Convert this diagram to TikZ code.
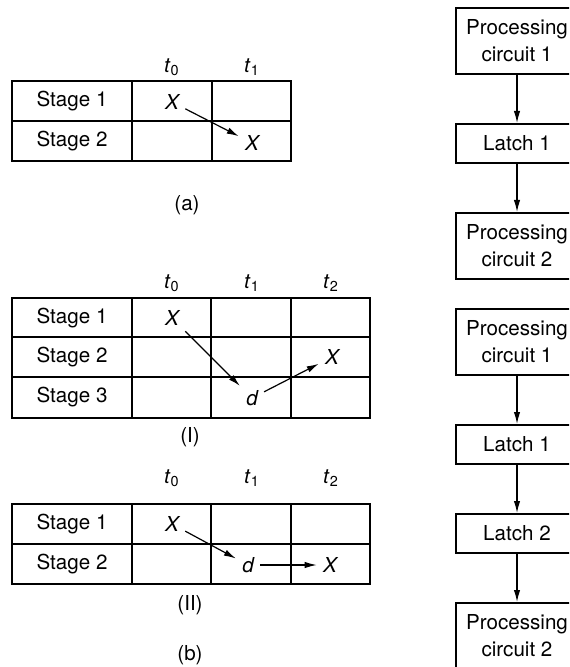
\documentclass[tikz,border=0pt]{standalone}
\usepackage{fontspec}
\setmainfont{TeX Gyre Heros}
\usepackage{tikz}
\usetikzlibrary{arrows.meta,positioning}
\newcommand{\tlab}[1]{\textit{t}\textsubscript{#1}}

\begin{document}
\begin{tikzpicture}[
  x=0.5pt, y=-0.5pt,
  every node/.style={font=\fontsize{10.3}{13.5}\selectfont},
  grid/.style={line width=1pt},
  entry/.style={inner sep=3pt, font=\fontsize{10.3}{13.5}\selectfont\itshape},
  proc/.style={rectangle, draw, line width=1pt, minimum width=61pt,
               minimum height=33pt, align=center},
  latch/.style={rectangle, draw, line width=1pt, minimum width=61pt,
                minimum height=19.5pt},
  arrow/.style={-{Latex[length=6pt,width=3.2pt]}, line width=0.6pt},
  node distance=24pt
]
  \path[use as bounding box] (0,0) rectangle (569,667);
  \clip (0,0) rectangle (569,667);

  % ── (a): two stages ──
  \draw[grid] (12,81) rectangle (291,161) (12,121) -- (291,121);
  \foreach \x in {132,212} \draw[grid] (\x,81) -- (\x,161);
  \node (a-t0) at (172,67) {\tlab{0}};
  \node (a-t1) at (252,67) {\tlab{1}};
  \node (a-s1) at (72,101) {Stage 1};
  \node (a-s2) at (72,141) {Stage 2};
  \node[entry] (a-x0) at (172,102) {X};
  \node[entry] (a-x1) at (252,143) {X};
  \draw[arrow] (a-x0) -- (a-x1);
  \node (a-cap) at (187,205) {(a)};

  % ── (b)(I): three stages ──
  \draw[grid] (12,298) rectangle (370,418);
  \foreach \y in {337,377} \draw[grid] (12,\y) -- (370,\y);
  \foreach \x in {132,211,291} \draw[grid] (\x,298) -- (\x,418);
  \node (i-t0) at (172,283) {\tlab{0}};
  \node (i-t1) at (252,283) {\tlab{1}};
  \node (i-t2) at (331,283) {\tlab{2}};
  \node (i-s1) at (72,318) {Stage 1};
  \node (i-s2) at (72,357) {Stage 2};
  \node (i-s3) at (72,397) {Stage 3};
  \node[entry] (i-x0) at (172,318) {X};
  \node[entry] (i-d)  at (252,398) {d};
  \node[entry] (i-x2) at (332,357) {X};
  \draw[arrow] (i-x0) -- (i-d);
  \draw[arrow] (i-d) -- (i-x2);
  \node (i-cap) at (190,437) {(I)};

  % ── (b)(II): two stages ──
  \draw[grid] (12,504) rectangle (370,584) (12,544) -- (370,544);
  \foreach \x in {132,211,291} \draw[grid] (\x,504) -- (\x,584);
  \node (ii-t0) at (172,478) {\tlab{0}};
  \node (ii-t1) at (252,478) {\tlab{1}};
  \node (ii-t2) at (331,478) {\tlab{2}};
  \node (ii-s1) at (72,524) {Stage 1};
  \node (ii-s2) at (72,564) {Stage 2};
  \node[entry] (ii-x0) at (172,524) {X};
  \node[entry] (ii-d)  at (248,565) {d};
  \node[entry] (ii-x2) at (330,565) {X};
  \draw[arrow] (ii-x0) -- (ii-d);
  \draw[arrow] (ii-d) -- (ii-x2);
  \node (ii-cap) at (190,605) {(II)};
  \node (b-cap) at (190,655) {(b)};

  % ── RIGHT: circuit chains ──
  \node[proc] (p1) at (517,41) {Processing\\circuit 1};
  \node[latch, below=of p1] (l1) {Latch 1};
  \node[proc, below=of l1] (p2) {Processing\\circuit 2};
  \draw[arrow] (p1) -- (l1);
  \draw[arrow] (l1) -- (p2);

  \node[proc, below=14pt of p2] (q1) {Processing\\circuit 1};
  \node[latch, below=of q1] (m1) {Latch 1};
  \node[latch, below=of m1] (m2) {Latch 2};
  \node[proc, below=of m2] (q2) {Processing\\circuit 2};
  \draw[arrow] (q1) -- (m1);
  \draw[arrow] (m1) -- (m2);
  \draw[arrow] (m2) -- (q2);
\end{tikzpicture}
\end{document}
